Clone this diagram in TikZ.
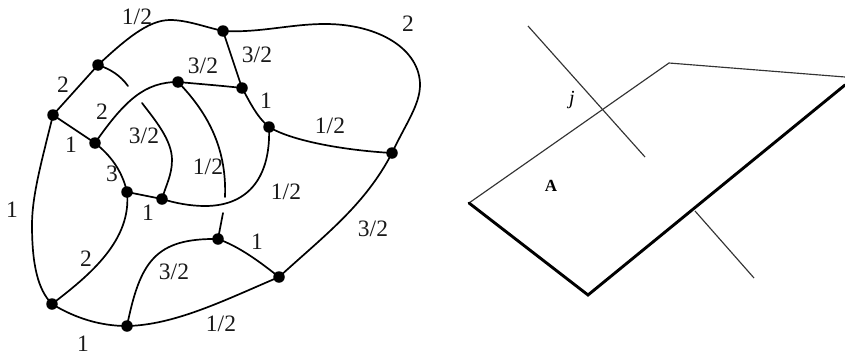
\documentclass[tikz,border=0pt]{standalone}
\usepackage{fontspec}
\setmainfont{Liberation Serif}
\begin{document}
\begin{tikzpicture}[x=1pt,y=-1pt,
  dot/.style={circle,fill=black,inner sep=0pt,minimum size=11.5pt},
  lab/.style={inner sep=0pt,font=\fontsize{23.5}{25}\selectfont,text=black!90},
  edge/.style={line width=1.7pt,line cap=round},
  thin edge/.style={line width=1.15pt,draw=black!80},
  thick edge/.style={line width=2.9pt,line cap=round}]
\useasboundingbox (0,0) rectangle (845,356);
% left graph vertices
\node[dot] (a) at (53,115) {};
\node[dot] (b) at (98,65) {};
\node[dot] (c) at (223,31) {};
\node[dot] (d) at (242,88) {};
\node[dot] (e) at (269,127) {};
\node[dot] (f) at (392,153) {};
\node[dot] (g) at (279,277) {};
\node[dot] (h) at (218,239) {};
\node[dot] (i) at (127,326) {};
\node[dot] (j) at (52,304) {};
\node[dot] (k) at (95,143) {};
\node[dot] (l) at (178,82) {};
\node[dot] (m) at (127,192) {};
\node[dot] (n) at (162,199) {};
\coordinate (s1) at (128,86);
\coordinate (s2) at (142,103);
\coordinate (s3) at (225,197);
\coordinate (s4) at (223,213);
% edges
\draw[edge] (a.center) -- (b.center);
\draw[edge] (b.center) .. controls (125,40) and (148,20) .. (170,20) .. controls (187,20) and (205,27) .. (c.center);
\draw[edge] (c.center) .. controls (260,33) and (290,24) .. (325,24) .. controls (380,24) and (420,50) .. (420,85) .. controls (420,105) and (405,125) .. (f.center);
\draw[edge] (c.center) -- (d.center);
\draw[edge] (d.center) .. controls (250,102) and (256,116) .. (e.center);
\draw[edge] (e.center) .. controls (290,140) and (340,150) .. (f.center);
\draw[edge] (e.center) .. controls (271,175) and (250,206) .. (205,206) .. controls (190,206) and (175,203) .. (n.center);
\draw[edge] (m.center) -- (n.center);
\draw[edge] (a.center) -- (k.center);
\draw[edge] (k.center) .. controls (110,155) and (122,170) .. (m.center);
\draw[edge] (k.center) .. controls (125,100) and (145,82) .. (l.center);
\draw[edge] (l.center) .. controls (200,84) and (225,86) .. (d.center);
\draw[edge] (l.center) .. controls (205,110) and (227,145) .. (s3);
\draw[edge] (b.center) .. controls (110,69) and (120,75) .. (s1);
\draw[edge] (s2) .. controls (155,120) and (172,140) .. (172,160) .. controls (172,175) and (166,185) .. (n.center);
\draw[edge] (s4) -- (h.center);
\draw[edge] (a.center) .. controls (42,160) and (32,195) .. (32,225) .. controls (32,265) and (38,290) .. (j.center);
\draw[edge] (j.center) .. controls (75,318) and (100,326) .. (i.center);
\draw[edge] (i.center) .. controls (175,325) and (225,300) .. (g.center);
\draw[edge] (g.center) .. controls (325,235) and (365,205) .. (f.center);
\draw[edge] (h.center) .. controls (240,247) and (260,262) .. (g.center);
\draw[edge] (h.center) .. controls (155,238) and (140,262) .. (i.center);
\draw[edge] (m.center) .. controls (132,240) and (90,275) .. (j.center);
% labels
\node[lab] (t1) at (137,17) {1/2};
\node[lab] (t2) at (63,85) {2};
\node[lab] (t3) at (102,112) {2};
\node[lab] (t4) at (71,145) {1};
\node[lab] (t5) at (144,136) {3/2};
\node[lab] (t6) at (112,174) {3};
\node[lab] (t7) at (203,66) {3/2};
\node[lab] (t8) at (208,167) {1/2};
\node[lab] (t9) at (257,55) {3/2};
\node[lab] (t10) at (408,24) {2};
\node[lab] (t11) at (266,101) {1};
\node[lab] (t12) at (330,126) {1/2};
\node[lab] (t13) at (286,192) {1/2};
\node[lab] (t14) at (148,213) {1};
\node[lab] (t15) at (12,210) {1};
\node[lab] (t16) at (86,259) {2};
\node[lab] (t17) at (174,272) {3/2};
\node[lab] (t18) at (257,242) {1};
\node[lab] (t19) at (221,324) {1/2};
\node[lab] (t20) at (83,344) {1};
\node[lab] (t21) at (373,229) {3/2};
% right figure
\coordinate (p1) at (469,203);
\coordinate (p2) at (669,63);
\coordinate (p3) at (845,77);
\coordinate (p4) at (845,85);
\coordinate (p5) at (588,295);
\coordinate (q1) at (528,26);
\coordinate (q2) at (645,157);
\coordinate (r1) at (695,211);
\coordinate (r2) at (754,278);
\draw[thin edge] (p1) -- (p2) -- (p3);
\draw[thin edge] (q1) -- (q2);
\draw[thin edge] (r1) -- (r2);
\draw[thick edge,line join=miter] (p1) -- (p5) -- (p4);
\node[inner sep=0pt,font=\fontsize{20}{22}\selectfont\itshape] (jl) at (572,100) {j};
\node[inner sep=0pt,font=\fontsize{17}{19}\selectfont\bfseries] (al) at (551,186) {A};
\end{tikzpicture}
\end{document}
